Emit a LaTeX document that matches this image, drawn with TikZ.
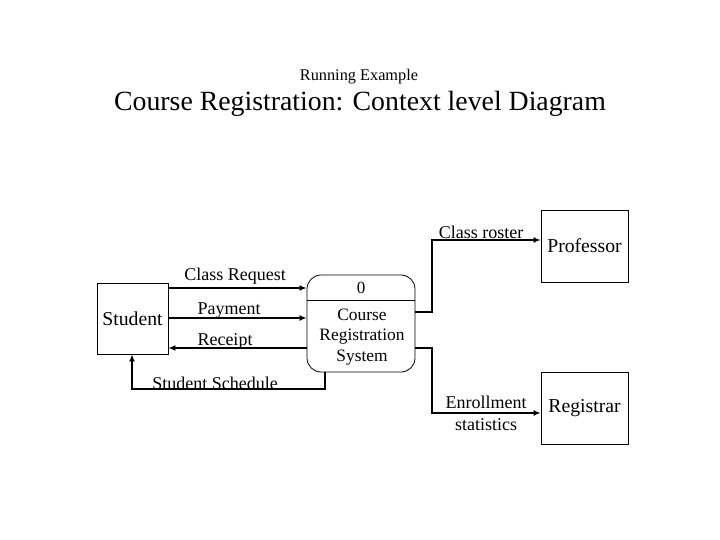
\documentclass[tikz,border=0pt]{standalone}
\usepackage{fontspec}
\setmainfont{Liberation Serif}
\usetikzlibrary{arrows.meta}
\begin{document}
\begin{tikzpicture}[x=1pt,y=-1pt,
  box/.style={draw,line width=0.8pt},
  flow/.style={line width=1.8pt,-{Latex[length=7pt,width=6pt]}},
  lbl/.style={font=\fontsize{18}{22}\selectfont,inner sep=0pt},
  ent/.style={font=\fontsize{19.7}{22}\selectfont}]
\useasboundingbox (0,0) rectangle (720,540);
\node[font=\fontsize{16.3}{18}\selectfont] (sub) at (359,77) {Running Example};
\node[font=\fontsize{27.8}{30}\selectfont] (title) at (360,104) {Course Registration: Context level Diagram};
% entities
\node[box,minimum width=71pt,minimum height=71pt,inner sep=0pt,ent] (stu) at (132.5,318.5) {Student};
\node[box,minimum width=87pt,minimum height=72pt,inner sep=0pt,ent] (prof) at (584.5,246) {Professor};
\node[box,minimum width=87pt,minimum height=72pt,inner sep=0pt,ent] (reg) at (584.5,408) {Registrar};
% process
\node[box,rounded corners=14pt,minimum width=108pt,minimum height=97pt,inner sep=0pt] (proc) at (361,323.5) {};
\draw[line width=0.8pt] (proc.west |- 0,300) -- (proc.east |- 0,300);
\node[lbl,font=\fontsize{17}{19}\selectfont] (pnum) at (361,288) {0};
\node[lbl,font=\fontsize{17.4}{20.5}\selectfont,align=center] (pname) at (362,337) {Course\\Registration\\System};
% flows
\draw[flow] (stu.east |- 0,288) -- (proc.west |- 0,288);
\draw[flow] (stu.east |- 0,318) -- (proc.west |- 0,318);
\draw[flow] (proc.west |- 0,348) -- (stu.east |- 0,348);
\draw[flow] (proc.south -| 325,0) -- (325,389) -- (132,389) -- (stu.south -| 132,0);
\draw[flow] (proc.east |- 0,312) -- (432,312) -- (432,240) -- (prof.west |- 0,240);
\draw[flow] (proc.east |- 0,348) -- (432,348) -- (432,413) -- (reg.west |- 0,413);
% labels
\node[lbl] (l1) at (235,276) {Class Request};
\node[lbl] (l2) at (229,311) {Payment};
\node[lbl] (l3) at (225,341) {Receipt};
\node[lbl] (l4) at (215,383) {Student Schedule};
\node[lbl] (l5) at (481,232) {Class roster};
\node[lbl,align=center] (l6) at (486,413) {Enrollment\\statistics};
\end{tikzpicture}
\end{document}
